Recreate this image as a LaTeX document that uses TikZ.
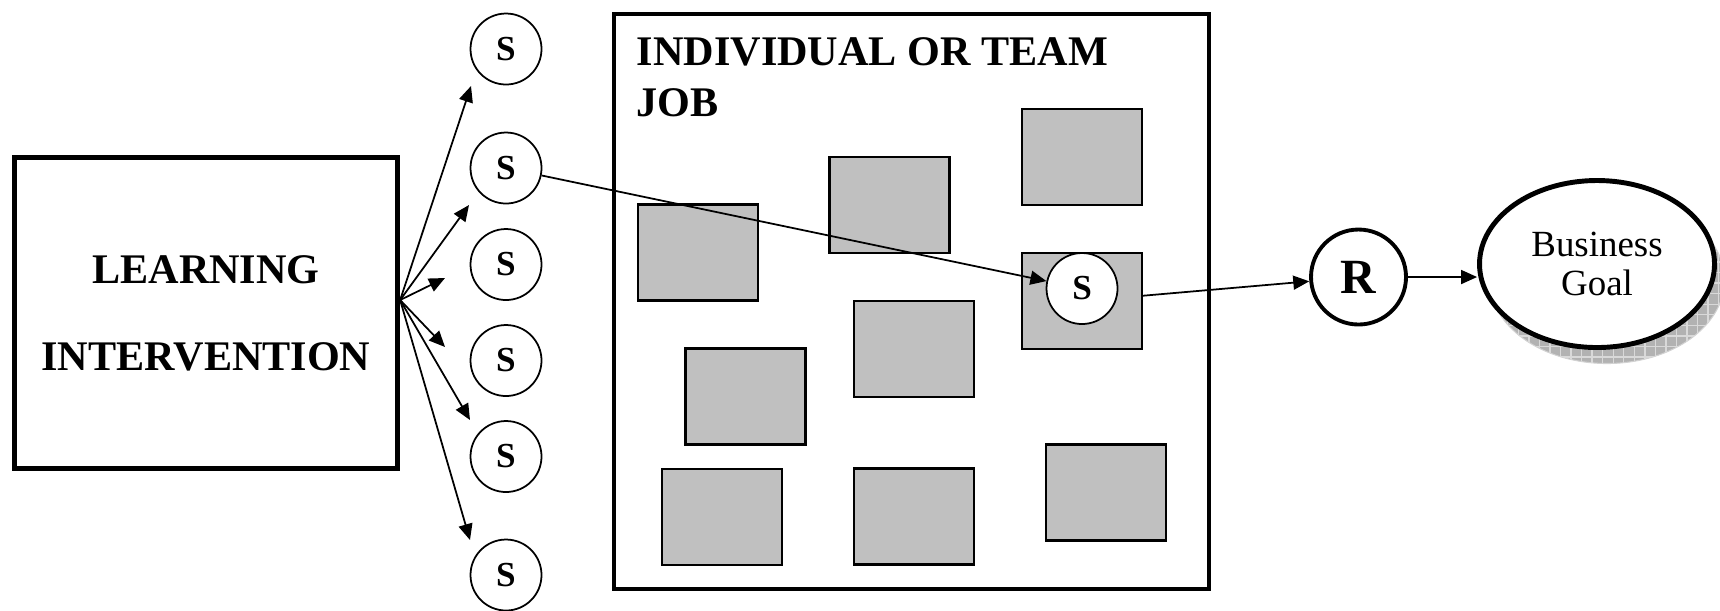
\documentclass[tikz,border=0pt]{standalone}
\usepackage{fontspec}
\setmainfont{Liberation Serif}
\usetikzlibrary{arrows.meta,shapes.geometric,shadows,patterns}
\definecolor{jobgray}{RGB}{192,192,192}
\tikzset{
  skill/.style={circle,draw,line width=0.5pt,fill=white,minimum size=7.1mm,inner sep=0pt,
    font=\fontsize{10}{12}\selectfont\bfseries},
  task/.style={draw,line width=0.6pt,fill=jobgray,minimum width=12mm,minimum height=9.6mm,inner sep=0pt},
}
\begin{document}
\begin{tikzpicture}[x=0.1mm,y=-0.1mm,line width=0.5pt,>={Triangle[length=1.6mm,width=1.4mm]}]
\useasboundingbox (0,0) rectangle (1720,610);
% learning intervention
\node[draw,line width=1.5pt,minimum width=38.3mm,minimum height=31.1mm,inner sep=0pt,align=center,
  font=\fontsize{12}{24.7}\selectfont\bfseries] (LI) at (206,313) {LEARNING\\INTERVENTION};
\coordinate (fan) at ([yshift=1.3mm]LI.east);
% skills
\foreach \y [count=\i] in {49,168,264.5,360.5,456.5,575}
  \node[skill] (s\i) at (506,\y) {S};
\foreach \x/\y [count=\i] in {471/86,469/205,445/278,445/347,470/420,470/540}{
  \coordinate (t\i) at (\x,\y);
  \draw[->] (fan) -- (t\i);
}
% job
\node[draw,line width=1.4pt,minimum width=59.5mm,minimum height=57.5mm,inner sep=0pt] (job) at (911.5,301.5) {};
\node[anchor=base west,align=left,inner sep=0pt,font=\fontsize{12}{14.5}\selectfont\bfseries] (title) at (636,116)
  {INDIVIDUAL OR TEAM\\JOB};
\foreach \x/\y [count=\i] in {698/252.5,889.5/205,1082/157,1082/301,914/349,745.5/396.5,722/517,914/516.5,1106/492.5}
  \node[task] (g\i) at (\x,\y) {};
\node[skill] (sin) at (1082,288.5) {S};
\draw[->] (s2) -- (sin);
% result and goal
\node[circle,draw,line width=1.1pt,minimum size=9.5mm,inner sep=0pt,font=\fontsize{14}{16}\selectfont\bfseries] (R) at (1358.5,277) {R};
\node[ellipse,draw,line width=1.4pt,fill=white,minimum width=23.5mm,minimum height=16.7mm,inner sep=0pt,align=center,
  font=\fontsize{10.5}{11.3}\selectfont,
  drop shadow={shadow xshift=1mm,shadow yshift=-1.6mm,opacity=1,fill=gray!60,draw=gray!35,line width=0.3pt,
    postaction={pattern=grid,pattern color=gray!30}}] (goal) at (1597,264) {Business\\Goal};
\draw[->] (g4) -- (R);
\draw[->] (R) -- (R -| goal.west);
\end{tikzpicture}
\end{document}
